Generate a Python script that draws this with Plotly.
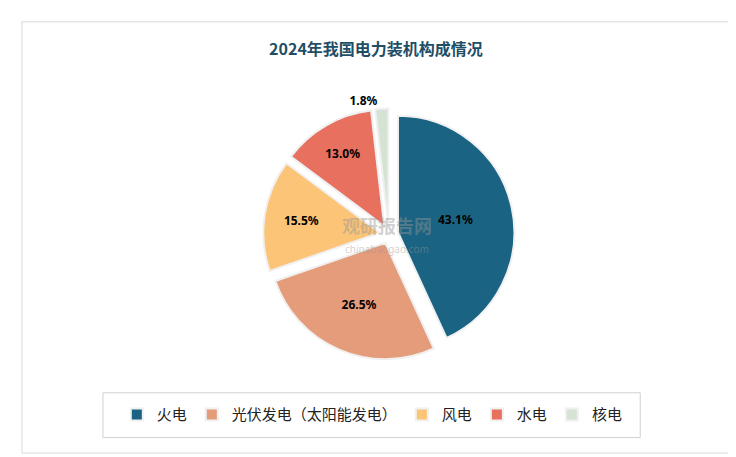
import plotly.graph_objects as go

labels = ["火电", "光伏发电（太阳能发电）", "风电", "水电", "核电"]
values = [43.1, 26.5, 15.5, 13.0, 1.8]
colors = ["#1b6383", "#e59c7b", "#fcc477", "#e8705f", "#d4e3d3"]

fig = go.Figure()
fig.add_trace(go.Pie(
    labels=labels, values=values, sort=False, direction="clockwise", rotation=0,
    marker=dict(colors=colors, line=dict(color="#f0f0f0", width=2)),
    pull=[0.08] * 5,
    texttemplate="<b>%{percent:.1%}</b>",
    textposition=["inside", "inside", "inside", "inside", "outside"],
    insidetextorientation="horizontal",
    textfont=dict(color="black", size=12, family="Noto Sans"),
    insidetextfont=dict(color="black", size=12, family="Noto Sans"),
    domain=dict(x=[0.345, 0.69], y=[0.23, 0.78]),
    hoverinfo="label+percent",
))

fig.update_layout(
    width=736, height=457,
    margin=dict(l=0, r=0, t=0, b=0),
    paper_bgcolor="white",
    title=dict(text="<b>2024年我国电力装机构成情况</b>", x=0.5, y=0.91, xanchor="center", yanchor="middle",
               font=dict(size=16, color="#1f4e66", family="Noto Sans CJK SC")),
    legend=dict(orientation="h", x=0.495, xanchor="center", y=0.11, yanchor="middle",
                font=dict(size=15, color="#222", family="Noto Sans CJK SC"),
                itemwidth=30, traceorder="normal"),
    shapes=[
        dict(type="rect", xref="paper", yref="paper", x0=0.019, x1=0.981, y0=0.026, y1=0.97,
             line=dict(color="#e6e6e6", width=1.5)),
        dict(type="rect", xref="paper", yref="paper", x0=0.129, x1=0.859, y0=0.06, y1=0.158,
             line=dict(color="#d0d0d0", width=1)),
    ],
    annotations=[
        dict(text="<b>观研报告网</b>", x=0.515, y=0.525, xref="paper", yref="paper", showarrow=False,
             font=dict(size=18, color="rgba(150,150,150,0.45)", family="Noto Sans CJK SC")),
        dict(text="chinabaogao.com", x=0.515, y=0.472, xref="paper", yref="paper", showarrow=False,
             font=dict(size=10, color="rgba(150,150,150,0.45)", family="Noto Sans")),
    ],
)

fig.write_html("out.html")
